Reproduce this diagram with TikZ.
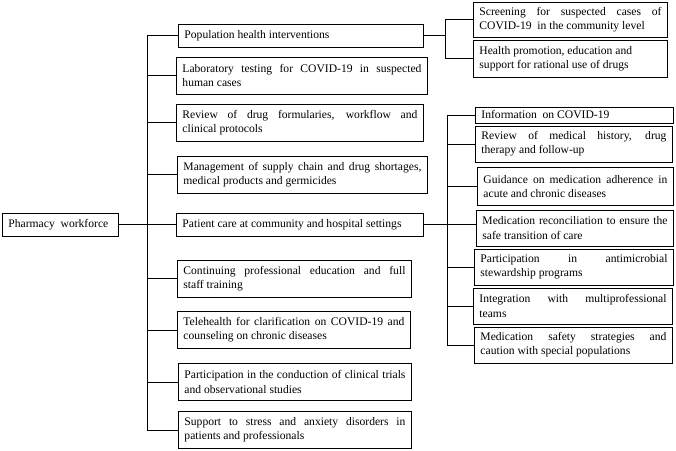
\documentclass[tikz,border=0pt]{standalone}
\usepackage{fontspec}
\setmainfont{Liberation Serif}
\usetikzlibrary{calc,positioning}

\tikzset{
  wbox/.style={draw, line width=0.9pt, inner xsep=6pt, inner ysep=0pt, anchor=west,
    align=justify, font=\fontsize{11.6}{14.2}\selectfont},
  wline/.style={line width=0.9pt},
}

\begin{document}
\begin{tikzpicture}[x=1pt,y=-1pt]
    %% Define constants
    \def\hs{23pt}
    \def\hd{37pt}
    \useasboundingbox (0,0) rectangle (676,450);
    %% Locate the spines
    \coordinate (trunk) at (147,0);
    \coordinate (popsp) at (445,0);
    \coordinate (patsp) at (447,0);
    %% Draw the root
    \node[wbox, text width=104pt, minimum height=\hs] (root) at (2,224.5) {Pharmacy\ \ workforce};
    %% Draw the middle column
    \node[wbox, text width=233pt, minimum height=\hs] (pop) at (178,35.5) {Population health interventions};
    \node[wbox, text width=239pt, minimum height=\hd] (lab) at (176,75.5) {Laboratory testing for COVID-19 in suspected\linebreak human cases};
    \node[wbox, text width=235pt, minimum height=\hd] (rev) at (176,122.5) {Review of drug formularies, workflow and\linebreak clinical protocols};
    \node[wbox, text width=238pt, minimum height=\hd] (man) at (177,174.5) {Management of supply chain and drug shortages,\linebreak medical products and germicides};
    \node[wbox, text width=235pt, minimum height=\hs] (pat) at (176,224.5) {Patient care at community and hospital settings};
    \node[wbox, text width=222pt, minimum height=\hd] (cont) at (177,278.5) {Continuing professional education and full\linebreak staff training};
    \node[wbox, text width=221pt, minimum height=\hd] (tele) at (177,330) {Telehealth for clarification on COVID-19 and\linebreak counseling on chronic diseases};
    \node[wbox, text width=221pt, minimum height=\hd] (trial) at (178,382) {Participation in the conduction of clinical trials\linebreak and observational studies};
    \node[wbox, text width=221pt, minimum height=\hd] (stress) at (178,430) {Support to stress and anxiety disorders in\linebreak patients and professionals};
    %% Draw the population group
    \node[wbox, text width=182pt, minimum height=35pt] (screen) at (473,19.5) {Screening for suspected cases of\linebreak COVID-19\ \ in the community level};
    \node[wbox, text width=182pt, minimum height=\hd] (promo) at (473,58.5) {Health promotion, education and\newline support for rational use of drugs};
    %% Draw the patient care group
    \node[wbox, text width=186pt, minimum height=16pt] (info) at (475,115) {Information\ \ on COVID-19};
    \node[wbox, text width=185pt, minimum height=36pt] (hist) at (475,144) {Review of medical history, drug\linebreak therapy and follow-up};
    \node[wbox, text width=184pt, minimum height=38pt] (adher) at (477,186.5) {Guidance on medication adherence in\linebreak acute and chronic diseases};
    \node[wbox, text width=185pt, minimum height=36pt] (recon) at (476,228) {Medication reconciliation to ensure the\linebreak safe transition of care};
    \node[wbox, text width=187pt, minimum height=36pt] (amr) at (474,267) {Participation in antimicrobial\linebreak stewardship programs};
    \node[wbox, text width=187pt, minimum height=36pt] (team) at (473,306) {Integration with multiprofessional\linebreak teams};
    \node[wbox, text width=186pt, minimum height=36pt] (safe) at (474,345) {Medication safety strategies and\linebreak caution with special populations};
    %% Connect the root to the middle column
    \draw[wline] (root.east) -- (root.east -| trunk);
    \draw[wline] (pop.west -| trunk) -- (stress.west -| trunk);
    \draw[wline] (pop.west) -- (pop.west -| trunk);
    \draw[wline] (lab.west) -- (lab.west -| trunk);
    \draw[wline] (rev.west) -- (rev.west -| trunk);
    \draw[wline] (man.west) -- (man.west -| trunk);
    \draw[wline] (pat.west) -- (pat.west -| trunk);
    \draw[wline] (cont.west) -- (cont.west -| trunk);
    \draw[wline] (tele.west) -- (tele.west -| trunk);
    \draw[wline] (trial.west) -- (trial.west -| trunk);
    \draw[wline] (stress.west) -- (stress.west -| trunk);
    % population health branch
    \draw[wline] (pop.east) -- (pop.east -| popsp);
    \draw[wline] (screen.west) -- (screen.west -| popsp) -- (promo.west -| popsp) -- (promo.west);
    % patient care branch
    \draw[wline] (pat.east) -- (pat.east -| recon.west);
    \draw[wline] (info.west -| patsp) -- (safe.west -| patsp);
    \draw[wline] (info.west) -- (info.west -| patsp);
    \draw[wline] (hist.west) -- (hist.west -| patsp);
    \draw[wline] (adher.west) -- (adher.west -| patsp);
    \draw[wline] (amr.west) -- (amr.west -| patsp);
    \draw[wline] (team.west) -- (team.west -| patsp);
    \draw[wline] (safe.west) -- (safe.west -| patsp);
\end{tikzpicture}
\end{document}
